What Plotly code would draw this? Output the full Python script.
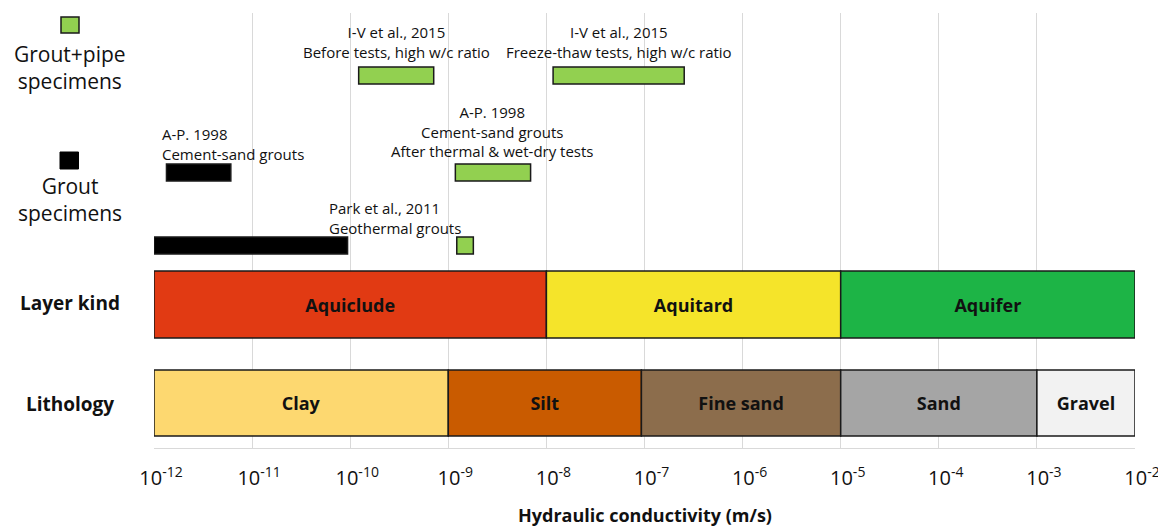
import math
import plotly.graph_objects as go

# ---------------- data ----------------
layer_names = ["Aquiclude", "Aquitard", "Aquifer"]
layer_lo = [1e-12, 1e-8, 1e-5]
layer_hi = [1e-8, 1e-5, 1e-2]
layer_colors = ["#E13A13", "#F5E42A", "#1DB446"]

litho_names = ["Clay", "Silt", "Fine sand", "Sand", "Gravel"]
litho_lo = [1e-12, 1e-9, 9.3e-8, 1e-5, 1e-3]
litho_hi = [1e-9, 9.3e-8, 1e-5, 1e-3, 1e-2]
litho_colors = ["#FDD870", "#C95B00", "#8C6D4C", "#A5A5A5", "#F2F2F2"]

# specimen ranges (m/s)
grout_lo = [1.34e-12, 1e-12]          # A-P 1998, Park 2011 (grout specimens)
grout_hi = [6.07e-12, 9.4e-11]
grout_row = ["ap", "park"]

pipe_lo = [1.22e-10, 1.17e-8, 1.18e-9, 1.22e-9]   # grout+pipe specimens
pipe_hi = [7.1e-10, 2.54e-7, 6.9e-9, 1.8e-9]
pipe_row = ["iv", "iv", "ap", "park"]

study_text = [
    "I-V et al., 2015<br>Before tests, high w/c ratio",
    "I-V et al., 2015<br>Freeze-thaw tests, high w/c ratio",
    "A-P. 1998<br>Cement-sand grouts<br>After thermal & wet-dry tests",
    "A-P. 1998<br>Cement-sand grouts",
    "Park et al., 2011<br>Geothermal grouts",
]

tick_exponents = [-12, -11, -10, -9, -8, -7, -6, -5, -4, -3, -2]
tick_text = ["10<sup>-12</sup>", "10<sup>-11</sup>", "10<sup>-10</sup>", "10<sup>-9</sup>",
             "10<sup>-8</sup>", "10<sup>-7</sup>", "10<sup>-6</sup>", "10<sup>-5</sup>",
             "10<sup>-4</sup>", "10<sup>-3</sup>", "10<sup>-2</sup>"]

# ---------------- layout constants ----------------
FONT = "Open Sans"
ROW_Y = {"litho": 45, "layer": 143.5, "park": 202.5, "ap": 275.5, "iv": 372.5}
BIG_W = 67
SMALL_W = 17
EDGE = "#1a1a1a"
GREEN = "#92D050"

fig = go.Figure()


def add_bars(lo, hi, ycenter, width, colors, names=None, lw=1.5):
    fig.add_trace(go.Bar(
        orientation="h",
        base=lo,
        x=[h - l for l, h in zip(lo, hi)],
        y=ycenter,
        width=width,
        marker=dict(color=colors, line=dict(color=EDGE, width=lw)),
        text=names,
        textposition="inside" if names else "none",
        insidetextanchor="middle",
        textangle=0,
        constraintext="none",
        textfont=dict(family=FONT, size=18, color="#111", weight=700),
        hoverinfo="skip",
        showlegend=False,
    ))


add_bars(layer_lo, layer_hi, [ROW_Y["layer"]] * 3, [BIG_W] * 3, layer_colors, layer_names)
add_bars(litho_lo, litho_hi, [ROW_Y["litho"]] * 5, [66] * 5, litho_colors, litho_names)
add_bars(grout_lo, grout_hi, [ROW_Y[r] for r in grout_row], [SMALL_W] * 2, ["#000000"] * 2)
add_bars(pipe_lo, pipe_hi, [ROW_Y[r] for r in pipe_row], [SMALL_W] * 4, [GREEN] * 4)

annotations = []
# study labels: centred ones above their bars
centre_idx = [0, 1, 2]
label_y = [406.5, 406.5, 317]
for i, ly in zip(centre_idx, label_y):
    xc = math.log10(math.sqrt(pipe_lo[i] * pipe_hi[i]))
    annotations.append(dict(x=xc, y=ly, xref="x", yref="y", text=study_text[i],
                            showarrow=False, xanchor="center", yanchor="middle",
                            font=dict(family=FONT, size=15, color="#111")))
# left-aligned labels
annotations.append(dict(x=-11.94, y=304.5, xref="x", yref="y", text=study_text[3],
                        showarrow=False, xanchor="left", yanchor="middle", align="left",
                        font=dict(family=FONT, size=15, color="#111")))
annotations.append(dict(x=-10.236, y=230.5, xref="x", yref="y", text=study_text[4],
                        showarrow=False, xanchor="left", yanchor="middle", align="left",
                        font=dict(family=FONT, size=15, color="#111")))

# left side row labels
LX = (70 - 154) / 981
annotations += [
    dict(x=LX, y=381, xref="paper", yref="y", text="Grout+pipe<br>specimens", showarrow=False,
         xanchor="center", yanchor="middle", font=dict(family=FONT, size=21, color="#111")),
    dict(x=LX, y=248.5, xref="paper", yref="y", text="Grout<br>specimens", showarrow=False,
         xanchor="center", yanchor="middle", font=dict(family=FONT, size=21, color="#111")),
    dict(x=LX, y=145, xref="paper", yref="y", text="Layer kind", showarrow=False,
         xanchor="center", yanchor="middle", font=dict(family=FONT, size=19, color="#111", weight=700)),
    dict(x=LX, y=44, xref="paper", yref="y", text="Lithology", showarrow=False,
         xanchor="center", yanchor="middle", font=dict(family=FONT, size=19, color="#111", weight=700)),
    dict(x=0.5, y=(448 - 515) / 435, xref="paper", yref="paper", text="Hydraulic conductivity (m/s)",
         showarrow=False, xanchor="center", yanchor="middle",
         font=dict(family=FONT, size=18, color="#111", weight=700)),
]

shapes = [
    dict(type="rect", xref="paper", yref="y", x0=(61 - 154) / 981, x1=(79 - 154) / 981,
         y0=415, y1=431, fillcolor=GREEN, line=dict(color=EDGE, width=1.5)),
    dict(type="rect", xref="paper", yref="y", x0=(60 - 154) / 981, x1=(78.5 - 154) / 981,
         y0=279, y1=296, fillcolor="#000000", line=dict(color="#000000", width=1)),
]

fig.update_layout(
    width=1158, height=527,
    margin=dict(l=154, r=23, t=13, b=79, autoexpand=False),
    paper_bgcolor="white", plot_bgcolor="white",
    barmode="overlay",
    annotations=annotations,
    shapes=shapes,
    xaxis=dict(type="log", range=[-12, -2], automargin=False,
               tickvals=[10 ** e for e in tick_exponents], ticktext=tick_text,
               showgrid=True, gridcolor="#D9D9D9", gridwidth=1,
               showline=True, linecolor="#D9D9D9", linewidth=1,
               zeroline=False, ticks="", ticklabelstandoff=12, ticklabelshift=7,
               ticklabeloverflow="allow",
               tickfont=dict(family=FONT, size=20, color="#111")),
    yaxis=dict(range=[0, 435], visible=False, showgrid=False, zeroline=False, automargin=False),
)

fig.write_html("out.html", config={"displayModeBar": False},
               post_script="document.body.style.margin='0px';")
